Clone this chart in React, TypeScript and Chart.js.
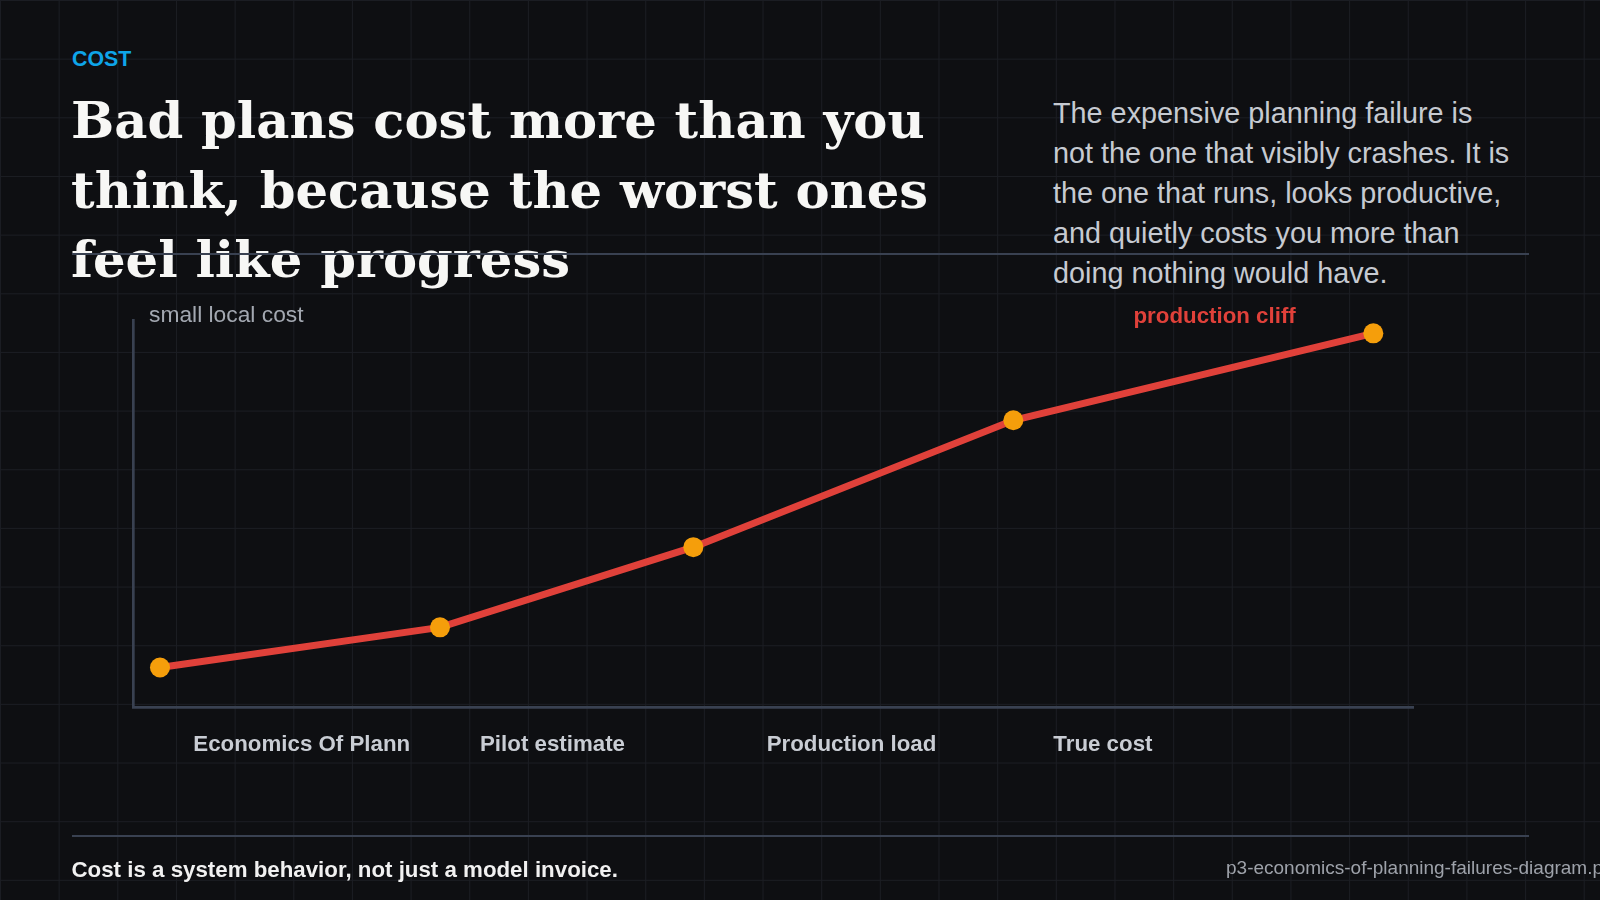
import React, { useEffect, useRef } from "react";
import { Chart, registerables } from "chart.js";

Chart.register(...registerables);

// ---- data ----
const stageLabels = ["Economics Of Plann", "Pilot estimate", "Production load", "True cost"];
const stageLabelAt = [45, 260, 475, 690];
const pointStage = [20, 230, 420, 660, 930];
const pointCost = [30, 60, 120, 215, 280];
const stageRange = [0, 960];
const costRange = [0, 290];

// ---- style ----
const BG = "#0e0f12";
const GRID = "#1b1d23";
const AXIS = "#394151";
const RED = "#e0413a";
const AMBER = "#f59e0b";
const SANS = "'Liberation Sans', Arial, Helvetica, sans-serif";
const SERIF = "'DejaVu Serif', Georgia, serif";

// top of a text box whose baseline should sit at `baseline`
function topFor(baseline: number, fs: number, lh: number, asc = 0.905, desc = 0.212) {
  return baseline - (lh - (asc + desc) * fs) / 2 - asc * fs;
}

export default function App() {
  const ref = useRef<HTMLCanvasElement>(null);

  useEffect(() => {
    document.body.style.margin = "0";
    const chart = new Chart(ref.current!, {
      type: "line",
      data: {
        datasets: [
          {
            data: pointStage.map((x, i) => ({ x, y: pointCost[i] })),
            borderColor: RED,
            borderWidth: 7,
            pointRadius: 10,
            pointHoverRadius: 10,
            pointBackgroundColor: AMBER,
            pointBorderWidth: 0,
            tension: 0,
            fill: false,
          },
        ],
      },
      options: {
        animation: false,
        responsive: false,
        maintainAspectRatio: false,
        events: [],
        layout: { padding: { left: 133.33, top: 320, right: 186.67, bottom: 117.7 } },
        plugins: { legend: { display: false }, tooltip: { enabled: false } },
        scales: {
          x: {
            type: "linear",
            min: stageRange[0],
            max: stageRange[1],
            grid: { display: false, drawTicks: false },
            border: { display: true, color: AXIS, width: 2.67 },
            afterBuildTicks: (scale: any) => {
              scale.ticks = stageLabelAt.map((v) => ({ value: v }));
            },
            ticks: {
              autoSkip: false,
              maxRotation: 0,
              minRotation: 0,
              align: "start",
              padding: 24,
              color: "#c9cdd4",
              font: { family: SANS, size: 22.3, weight: "bold" },
              callback: (_v: any, i: number) => stageLabels[i],
            },
          },
          y: {
            type: "linear",
            min: costRange[0],
            max: costRange[1],
            grid: { display: false, drawTicks: false },
            border: { display: true, color: AXIS, width: 2.67 },
            ticks: { display: false },
          },
        },
      },
    } as any);
    return () => chart.destroy();
  }, []);

  const abs = (s: React.CSSProperties): React.CSSProperties => ({ position: "absolute", whiteSpace: "nowrap", ...s });

  return (
    <div
      style={{
        position: "fixed",
        left: 0,
        top: 0,
        width: 1600,
        height: 900,
        overflow: "hidden",
        backgroundColor: BG,
        backgroundImage: `linear-gradient(to right, ${GRID} 1.4px, transparent 1.4px), linear-gradient(to bottom, ${GRID} 1.4px, transparent 1.4px)`,
        backgroundSize: "58.667px 58.667px",
        fontFamily: SANS,
      }}
    >
      <div style={abs({ left: 72, top: topFor(66.7, 21.33, 21.33), fontSize: 21.33, lineHeight: "21.33px", fontWeight: 700, color: "#0ea5e9" })}>
        COST
      </div>
      <div
        style={abs({
          left: 71,
          top: topFor(138.8, 51.2, 69.2, 0.928, 0.236),
          fontFamily: SERIF,
          fontWeight: 700,
          fontSize: 51.2,
          lineHeight: "69.2px",
          color: "#f7f7f5",
        })}
      >
        Bad plans cost more than you
        <br />
        think, because the worst ones
        <br />
        feel like progress
      </div>
      <div style={abs({ left: 72, top: 252.7, width: 1457.3, height: 2.67, background: AXIS })} />
      <div style={abs({ left: 1053, top: topFor(124.3, 28.8, 39.8), fontSize: 28.8, lineHeight: "39.8px", color: "#c6cad1" })}>
        The expensive planning failure is
        <br />
        not the one that visibly crashes. It is
        <br />
        the one that runs, looks productive,
        <br />
        and quietly costs you more than
        <br />
        doing nothing would have.
      </div>

      <canvas
        ref={ref}
        width={1600}
        height={900}
        style={{ position: "absolute", left: 0, top: 0, width: 1600, height: 900, pointerEvents: "none" }}
      />

      <div style={abs({ left: 149, top: topFor(322.8, 22.8, 22.8), fontSize: 22.8, lineHeight: "22.8px", color: "#a3a8b1" })}>
        small local cost
      </div>
      <div style={abs({ left: 1133.5, top: topFor(324, 22.3, 22.3), fontSize: 22.3, lineHeight: "22.3px", fontWeight: 700, color: RED })}>
        production cliff
      </div>

      <div style={abs({ left: 72, top: 834.7, width: 1457.3, height: 2.67, background: AXIS })} />
      <div style={abs({ left: 71.5, top: topFor(877.5, 22.3, 22.3), fontSize: 22.3, lineHeight: "22.3px", fontWeight: 700, color: "#f1f1f1" })}>
        Cost is a system behavior, not just a model invoice.
      </div>
      <div style={abs({ left: 1226, top: topFor(874.3, 19, 19), fontSize: 19, lineHeight: "19px", color: "#9ea2aa" })}>
        p3-economics-of-planning-failures-diagram.png
      </div>
    </div>
  );
}
